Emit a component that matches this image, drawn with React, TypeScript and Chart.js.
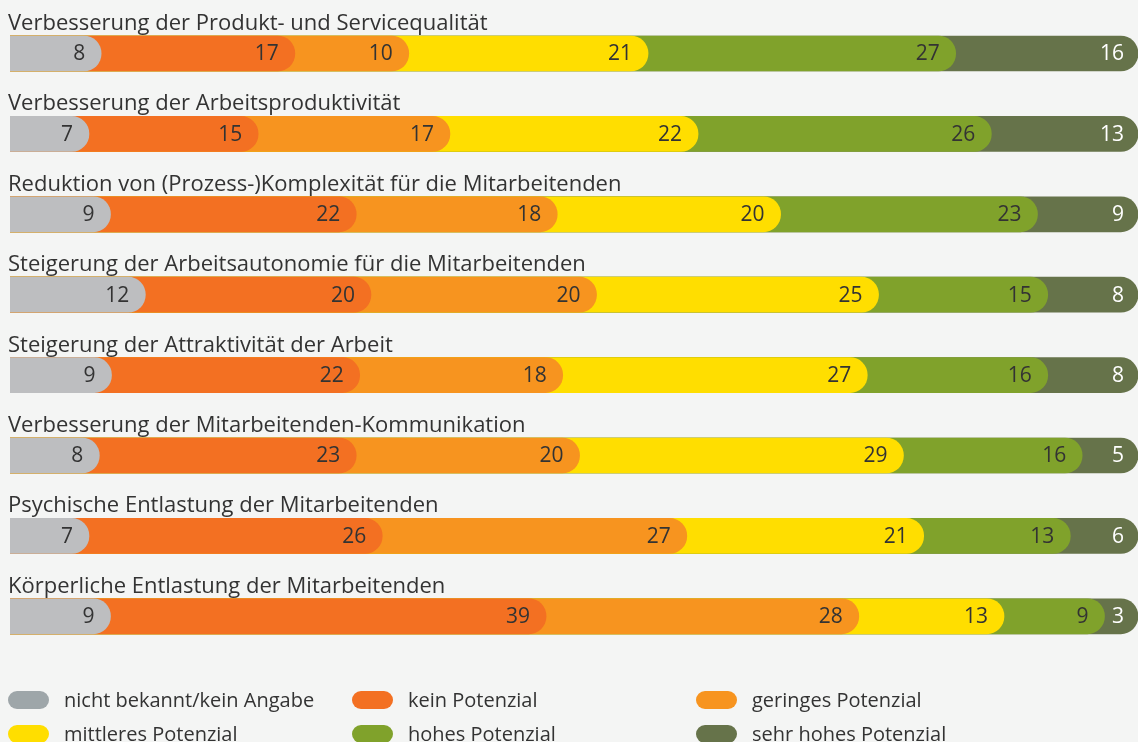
import React, { useEffect, useRef } from "react";
import { Chart, registerables } from "chart.js";

Chart.register(...registerables);

const categories = [
  "Verbesserung der Produkt- und Servicequalität",
  "Verbesserung der Arbeitsproduktivität",
  "Reduktion von (Prozess-)Komplexität für die Mitarbeitenden",
  "Steigerung der Arbeitsautonomie für die Mitarbeitenden",
  "Steigerung der Attraktivität der Arbeit",
  "Verbesserung der Mitarbeitenden-Kommunikation",
  "Psychische Entlastung der Mitarbeitenden",
  "Körperliche Entlastung der Mitarbeitenden",
];

const seriesNames = [
  "nicht bekannt/kein Angabe",
  "kein Potenzial",
  "geringes Potenzial",
  "mittleres Potenzial",
  "hohes Potenzial",
  "sehr hohes Potenzial",
];

const nichtBekannt = [8, 7, 9, 12, 9, 8, 7, 9];
const keinPotenzial = [17, 15, 22, 20, 22, 23, 26, 39];
const geringesPotenzial = [10, 17, 18, 20, 18, 20, 27, 28];
const mittleresPotenzial = [21, 22, 20, 25, 27, 29, 21, 13];
const hohesPotenzial = [27, 26, 23, 15, 16, 16, 13, 9];
const sehrHohesPotenzial = [16, 13, 9, 8, 8, 5, 6, 3];

const barColors = ["#bdbec0", "#f37022", "#f7941f", "#ffde00", "#80a22b", "#66734a"];
const legendColors = ["#9ea6a9", "#f37022", "#f7941f", "#ffde00", "#80a22b", "#66734a"];
const labelColors = ["#333333", "#333333", "#333333", "#333333", "#333333", "#ffffff"];

const FONT = "'Open Sans', sans-serif";
const BG = "#f4f5f4";

export default function App() {
  const canvasRef = useRef<HTMLCanvasElement | null>(null);

  useEffect(() => {
    const canvas = canvasRef.current;
    if (!canvas) return;
    const series = [
      nichtBekannt,
      keinPotenzial,
      geringesPotenzial,
      mittleresPotenzial,
      hohesPotenzial,
      sehrHohesPotenzial,
    ];
    const totals = categories.map((_, i) => series.reduce((s, arr) => s + arr[i], 0));
    const cumulative = series.map((_, si) =>
      categories.map((_, i) => {
        let c = 0;
        for (let k = 0; k <= si; k++) c += series[k][i];
        return (c / totals[i]) * 100;
      })
    );

    const labelPlugin = {
      id: "customLabels",
      afterDatasetsDraw(chart: any) {
        const ctx = chart.ctx;
        ctx.save();
        // value labels
        ctx.font = `21px ${FONT}`;
        ctx.textBaseline = "middle";
        ctx.textAlign = "right";
        chart.data.datasets.forEach((ds: any, di: number) => {
          const meta = chart.getDatasetMeta(di);
          const off = di === series.length - 1 ? 14 : 16;
          meta.data.forEach((el: any, i: number) => {
            ctx.fillStyle = labelColors[di];
            ctx.fillText(String(series[di][i]), el.x - off, el.y + 1);
          });
        });
        // category labels
        const meta0 = chart.getDatasetMeta(0);
        ctx.textAlign = "left";
        ctx.textBaseline = "alphabetic";
        ctx.fillStyle = "#333333";
        ctx.font = `22px ${FONT}`;
        meta0.data.forEach((el: any, i: number) => {
          const top = el.y - el.height / 2;
          ctx.fillText(categories[i], 8, top - 6);
        });
        // legend
        ctx.font = `20px ${FONT}`;
        ctx.textBaseline = "middle";
        const colX = [8, 352, 696];
        const rowY = [700, 734];
        seriesNames.forEach((name, si) => {
          const col = si % 3;
          const row = Math.floor(si / 3);
          const x = colX[col];
          const y = rowY[row];
          ctx.fillStyle = legendColors[si];
          ctx.beginPath();
          (ctx as any).roundRect(x, y - 9, 41, 18, 9);
          ctx.fill();
          ctx.fillStyle = "#333333";
          ctx.fillText(name, x + 56, y + 1);
        });
        ctx.restore();
      },
    };

    const chart = new Chart(canvas, {
      type: "bar",
      data: {
        labels: categories,
        datasets: seriesNames.map((name, si) => ({
          label: name,
          data: cumulative[si],
          backgroundColor: barColors[si],
          borderWidth: 0,
          borderRadius: 20,
          borderSkipped: "start",
          barThickness: 35,
          grouped: false,
        })),
      },
      options: {
        indexAxis: "y",
        responsive: false,
        devicePixelRatio: 1,
        animation: false,
        layout: { padding: { left: 10, right: 0, top: 13.3, bottom: 85.5 } },
        scales: {
          x: { display: false, min: 0, max: 100 },
          y: { display: false },
        },
        plugins: {
          legend: { display: false },
          tooltip: { enabled: false },
        },
      } as any,
      plugins: [labelPlugin],
    });
    return () => chart.destroy();
  }, []);

  return (
    <div style={{ position: "fixed", left: 0, top: 0, width: 1138, height: 742, background: BG }}>
      <canvas ref={canvasRef} width={1138} height={742} style={{ display: "block" }} />
    </div>
  );
}
